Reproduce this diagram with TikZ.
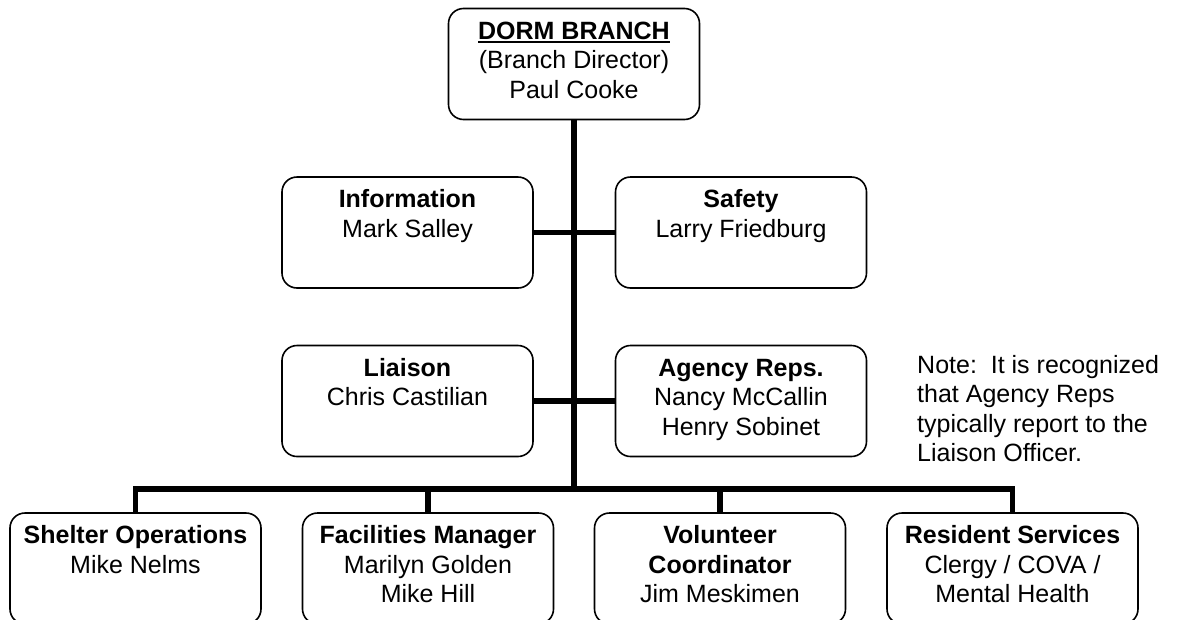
\documentclass[tikz,border=0pt]{standalone}
\usepackage{fontspec}
\setmainfont{Liberation Sans}
\newcommand{\headline}[1]{\leavevmode\vtop{\hbox{#1}\kern2pt\hrule height 1.8pt}}
\newcommand{\postbox}[1]{\parbox[t]{245pt}{\centering #1}}

\begin{document}
\begin{tikzpicture}[x=1pt,y=-1pt,
  every node/.style={font=\fontsize{25pt}{29.5pt}\selectfont},
  post/.style={draw,rounded corners=15pt,line width=1.6pt,
    minimum width=251pt,inner sep=0pt,text height=30.5pt,text depth=80.5pt},
  link/.style={line width=5.5pt}]
\useasboundingbox (0,0) rectangle (1184,619);
\clip (0,0) rectangle (1184,619);
\node[post] (dorm) at (574,64) {\postbox{\headline{\textbf{DORM BRANCH}}\\(Branch Director)\\Paul Cooke}};
\node[post] (info) at (407.5,232.5) {\postbox{\textbf{Information}\\Mark Salley}};
\node[post] (safety) at (741,232.5) {\postbox{\textbf{Safety}\\Larry Friedburg}};
\node[post] (liaison) at (407.5,401) {\postbox{\textbf{Liaison}\\Chris Castilian}};
\node[post] (agency) at (741,401) {\postbox{\textbf{Agency Reps.}\\Nancy McCallin\\Henry Sobinet}};
\node[post] (shelter) at (135.5,568.5) {\postbox{\textbf{Shelter Operations}\\Mike Nelms}};
\node[post] (facil) at (428,568.5) {\postbox{\textbf{Facilities Manager}\\Marilyn Golden\\Mike Hill}};
\node[post] (volun) at (720,568.5) {\postbox{\textbf{Volunteer}\\\textbf{Coordinator}\\Jim Meskimen}};
\node[post] (resid) at (1012.5,568.5) {\postbox{\textbf{Resident Services}\\Clergy / COVA /\\Mental Health}};
\node[align=left,anchor=base west,inner sep=0pt] (note) at (917,461.5)
  {Note:\ \ It is recognized\\that Agency Reps\\typically report to the\\Liaison Officer.};
\coordinate (hub) at (574,489); % bus to the units
\draw[link] (dorm.south) -- (hub);
\draw[link] (info.east) -- (safety.west);
\draw[link] (liaison.east) -- (agency.west);
\draw[link] (shelter.north) |- (hub) -| (resid.north);
\draw[link] (facil.north) -- (facil.north |- hub);
\draw[link] (volun.north) -- (volun.north |- hub);
\end{tikzpicture}
\end{document}
